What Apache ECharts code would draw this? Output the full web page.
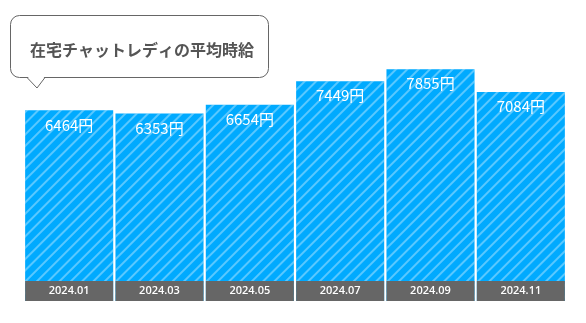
<!DOCTYPE html>
<html><head><meta charset="utf-8">
<script src="https://cdn.jsdelivr.net/npm/echarts@6/dist/echarts.min.js"></script>
<style>html,body{margin:0;padding:0;background:#fff}#c{width:586px;height:323px}</style>
</head><body><div id="c"></div>
<script>
const categories = ['2024.01','2024.03','2024.05','2024.07','2024.09','2024.11'];
const wages = [6464, 6353, 6654, 7449, 7855, 7084];
const titleText = '在宅チャットレディの平均時給';

const chart = echarts.init(document.getElementById('c'), null, {renderer:'canvas'});
chart.setOption({
  animation:false,
  backgroundColor:'#fff',
  title:{text:titleText,left:25,top:37,textStyle:{fontFamily:'Noto Sans CJK JP',fontSize:16,fontWeight:'bold',color:'#555'}},
  graphic:[
    {type:'rect',shape:{x:10.5,y:15.5,width:258,height:62,r:9},style:{fill:'#fff',stroke:'#666',lineWidth:1},z:1},
    {type:'polygon',shape:{points:[[27,76],[45,76],[37,88]]},style:{fill:'#fff'},z:2},
    {type:'polyline',shape:{points:[[27,77.5],[37,88],[45,77.5]]},style:{stroke:'#666',lineWidth:1,fill:null},z:3}
  ],
  grid:{left:24,right:20,top:6,bottom:22},
  xAxis:{type:'category',data:categories,z:10,
    axisLine:{show:false},axisTick:{show:false},
    axisLabel:{margin:-20,width:88,height:20,lineHeight:20,backgroundColor:'#666',color:'#fff',
      fontFamily:'Open Sans',fontSize:11,fontWeight:600,align:'center',overflow:'none'}},
  yAxis:{type:'value',min:0,max:10000,show:false,splitLine:{show:false}},
  series:[{type:'bar',data:wages,barCategoryGap:'2.5%',
    itemStyle:{color:'#00aaff',decal:{symbol:'rect',dashArrayX:[1,0],dashArrayY:[2,6],rotation:-Math.PI/4,color:'rgba(255,255,255,0.35)'}},
    label:{show:true,position:'insideTop',distance:7,formatter:p=>p.value+'円',color:'#fff',fontSize:15,fontFamily:'Noto Sans CJK JP'}}]
});
</script></body></html>
